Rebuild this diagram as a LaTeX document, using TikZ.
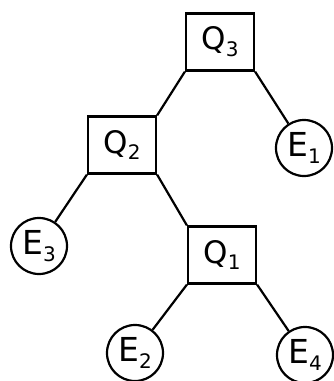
\documentclass[tikz,border=0pt]{standalone}
\usepackage{fontspec}
\setmainfont{DejaVu Sans}
\newcommand\sublbl[2]{#1\raisebox{-.4ex}{\fontsize{20}{20}\selectfont #2}}
\begin{document}
\begin{tikzpicture}[x=1pt,y=-1pt,line width=2.2pt,
  qbox/.style={draw, rectangle, inner sep=0pt, minimum width=68pt, minimum height=57pt, font=\fontsize{31}{31}\selectfont},
  ecirc/.style={draw, circle, inner sep=0pt, minimum size=56pt, font=\fontsize{33}{33}\selectfont}]
\useasboundingbox (0,0) rectangle (334,381);
\node[qbox] (q3) at (220,42){\sublbl{Q}{3}};
\node[qbox] (q2) at (122,145){\sublbl{Q}{2}};
\node[qbox] (q1) at (222,255){\sublbl{Q}{1}};
\node[ecirc] (e1) at (304,148){\sublbl{E}{1}};
\node[ecirc] (e3) at (39,246){\sublbl{E}{3}};
\node[ecirc] (e2) at (135,353){\sublbl{E}{2}};
\node[ecirc] (e4) at (305,355){\sublbl{E}{4}};
\draw[](q3.south west) -- (q2.north east);
\draw[](q3.south east) -- (e1);
\draw[](q2.south west) -- (e3);
\draw[](q2.south east) -- (q1.north west);
\draw[](q1.south west) -- (e2);
\draw[](q1.south east) -- (e4);
\end{tikzpicture}
\end{document}
